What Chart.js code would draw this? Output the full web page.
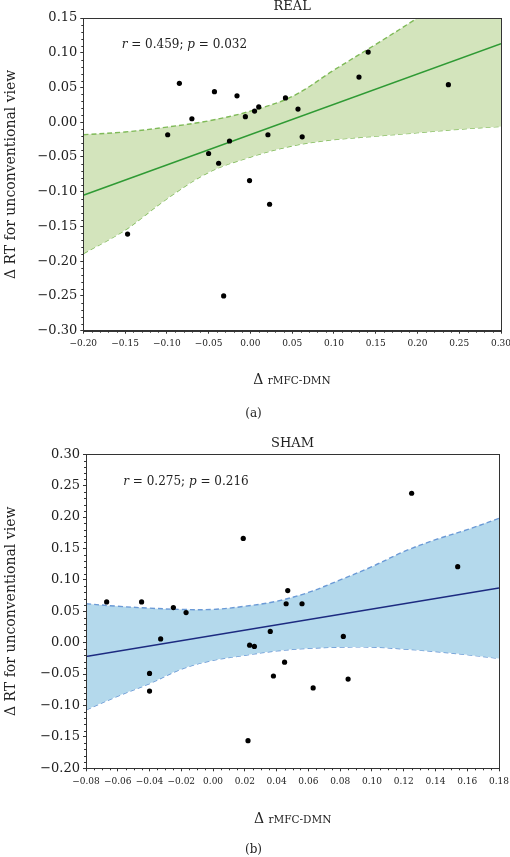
<!DOCTYPE html>
<html>
<head>
<meta charset="utf-8">
<script src="https://cdn.jsdelivr.net/npm/chart.js@4.4.1/dist/chart.umd.min.js"></script>
<style>
    html, body { margin: 0; padding: 0; background: #fff; }
    canvas { position: absolute; left: 0; }
    #realChart { top: 0; }
    #shamChart { top: 425px; }
</style>
</head>
<body>
<canvas id="realChart" width="510" height="425"></canvas>
<canvas id="shamChart" width="510" height="432"></canvas>
<script>
// (a) REAL: one dot per subject
const realX = [-0.099, -0.085, -0.070, -0.043, -0.016, -0.006, 0.005, 0.010, 0.042, 0.057, 0.062,
               0.021, -0.025, -0.050, -0.038, -0.001, 0.130, 0.141, 0.237, 0.023, -0.147, -0.032];
const realY = [-0.018, 0.056, 0.005, 0.044, 0.038, 0.008, 0.016, 0.022, 0.035, 0.019, -0.021,
               -0.018, -0.027, -0.045, -0.059, -0.084, 0.065, 0.101, 0.054, -0.118, -0.161, -0.250];
// regression line and its confidence band
const realFitX = [-0.20, 0.30];
const realFitY = [-0.105, 0.113];
const realBandX = [-0.20, -0.15, -0.10, -0.05, 0.00, 0.05, 0.10, 0.15, 0.20, 0.25, 0.30];
const realBandUpper = [-0.018, -0.014, -0.007, 0.002, 0.016, 0.037, 0.075, 0.112, 0.150, 0.190, 0.230];
const realBandLower = [-0.189, -0.155, -0.110, -0.072, -0.050, -0.034, -0.025, -0.020, -0.015, -0.010, -0.006];

// (b) SHAM
const shamX = [-0.067, -0.045, -0.025, -0.017, -0.033, 0.019, 0.047, 0.046, 0.056, 0.036, 0.082,
               0.125, 0.154, 0.023, 0.026, -0.040, -0.040, 0.045, 0.038, 0.063, 0.085, 0.022];
const shamY = [0.065, 0.065, 0.056, 0.048, 0.006, 0.166, 0.083, 0.062, 0.062, 0.018, 0.010,
               0.238, 0.121, -0.004, -0.006, -0.049, -0.077, -0.031, -0.053, -0.072, -0.058, -0.156];
const shamFitX = [-0.08, 0.18];
const shamFitY = [-0.022, 0.087];
const shamBandX = [-0.08, -0.06, -0.04, -0.02, 0.00, 0.02, 0.04, 0.06, 0.08, 0.10, 0.12, 0.14, 0.16, 0.18];
const shamBandUpper = [0.062, 0.058, 0.055, 0.053, 0.053, 0.058, 0.066, 0.080, 0.100, 0.121, 0.145, 0.164, 0.180, 0.198];
const shamBandLower = [-0.107, -0.085, -0.065, -0.042, -0.028, -0.020, -0.013, -0.009, -0.007, -0.007, -0.010, -0.014, -0.019, -0.025];

const serif = 'DejaVu Serif';
const ink = '#222';

function toPoints(xs, ys) {
    return xs.map((x, i) => ({ x: x, y: ys[i] }));
}

// 0.05 -> "0.05", -0.05 -> "−0.05"
function fmt(v) {
    if (Math.abs(v) < 1e-9) return '0.00';
    return v.toFixed(2).replace('-', '\u2212');
}

// frame, minor ticks and the loose texts around each panel
const panelDecor = {
    id: 'panelDecor',
    afterDraw(chart, args, o) {
        const { ctx, chartArea: a, scales: { x, y } } = chart;
        ctx.save();
        ctx.strokeStyle = '#333';
        ctx.lineWidth = 1;
        ctx.strokeRect(Math.round(a.left) + 0.5, Math.round(a.top) + 0.5,
                       Math.round(a.right - a.left), Math.round(a.bottom - a.top));

        // minor ticks
        ctx.beginPath();
        const nx = Math.round((x.max - x.min) / o.minorX);
        for (let i = 1; i < nx; i++) {
            if (i % o.perMajorX === 0) continue;
            const px = Math.round(x.getPixelForValue(x.min + i * o.minorX)) + 0.5;
            ctx.moveTo(px, a.bottom); ctx.lineTo(px, a.bottom + 2);
        }
        const ny = Math.round((y.max - y.min) / o.minorY);
        for (let i = 1; i < ny; i++) {
            if (i % o.perMajorY === 0) continue;
            const py = Math.round(y.getPixelForValue(y.min + i * o.minorY)) + 0.5;
            ctx.moveTo(a.left, py); ctx.lineTo(a.left - 2, py);
        }
        ctx.stroke();

        ctx.fillStyle = ink;
        ctx.textBaseline = 'alphabetic';

        // panel title
        ctx.textAlign = 'center';
        ctx.font = '13px "' + serif + '"';
        ctx.fillText(o.title, (a.left + a.right) / 2, o.titleY);

        // r / p statistics
        ctx.textAlign = 'left';
        let sx = o.statX;
        o.stat.forEach(part => {
            ctx.font = (part[1] ? 'italic ' : '') + '12px "' + serif + '"';
            ctx.fillText(part[0], sx, o.statY);
            sx += ctx.measureText(part[0]).width;
        });

        // x title: big delta, small label
        ctx.font = '14px "' + serif + '"';
        const d = 'Δ ';
        const dw = ctx.measureText(d).width;
        ctx.font = '10.5px "' + serif + '"';
        const lw = ctx.measureText('rMFC-DMN').width;
        const x0 = o.xTitleX - (dw + lw) / 2;
        ctx.font = '14px "' + serif + '"';
        ctx.fillText(d, x0, o.xTitleY);
        ctx.font = '10.5px "' + serif + '"';
        ctx.fillText('rMFC-DMN', x0 + dw, o.xTitleY);

        // (a) / (b)
        ctx.textAlign = 'center';
        ctx.font = '12px "' + serif + '"';
        ctx.fillText(o.letter, o.letterX, o.letterY);
        ctx.restore();
    }
};

function makeChart(id, p) {
    return new Chart(document.getElementById(id), {
        type: 'scatter',
        data: {
            datasets: [
                {
                    label: 'subjects',
                    data: toPoints(p.xs, p.ys),
                    pointRadius: 2.6,
                    pointBackgroundColor: '#000',
                    pointBorderWidth: 0,
                    showLine: false
                },
                {
                    label: 'fit',
                    data: toPoints(p.fitX, p.fitY),
                    showLine: true,
                    pointRadius: 0,
                    borderColor: p.lineColor,
                    borderWidth: 1.6
                },
                {
                    label: 'upper',
                    data: toPoints(p.bandX, p.upper),
                    showLine: true,
                    pointRadius: 0,
                    borderColor: p.dashColor,
                    borderWidth: 1.4,
                    borderDash: [5, 3],
                    tension: 0.35,
                    fill: '+1',
                    backgroundColor: p.fillColor
                },
                {
                    label: 'lower',
                    data: toPoints(p.bandX, p.lower),
                    showLine: true,
                    pointRadius: 0,
                    borderColor: p.dashColor,
                    borderWidth: 1.4,
                    borderDash: [5, 3],
                    tension: 0.35,
                    fill: false
                }
            ]
        },
        options: {
            responsive: false,
            animation: false,
            layout: { padding: { top: p.padTop, right: p.padRight, left: 0, bottom: 0 } },
            plugins: {
                legend: { display: false },
                tooltip: { enabled: false },
                panelDecor: p.decor
            },
            scales: {
                x: {
                    type: 'linear',
                    min: p.xMin, max: p.xMax,
                    ticks: {
                        stepSize: p.xStep, autoSkip: false, maxRotation: 0, padding: 5,
                        color: ink, font: { family: serif, size: 9 },
                        callback: v => fmt(v)
                    },
                    grid: { drawOnChartArea: false, tickLength: 3, color: '#333' },
                    border: { color: '#333' },
                    afterFit: s => { s.height = p.xAxisHeight; s.paddingLeft = 0; s.paddingRight = 0; }
                },
                y: {
                    type: 'linear',
                    min: p.yMin, max: p.yMax,
                    ticks: {
                        stepSize: p.yStep, autoSkip: false, padding: 3,
                        color: ink, font: { family: serif, size: 13 },
                        callback: v => fmt(v)
                    },
                    grid: { drawOnChartArea: false, tickLength: 3, color: '#333' },
                    border: { color: '#333' },
                    title: {
                        display: true, text: 'Δ RT for unconventional view', color: ink,
                        font: { family: serif, size: 14 }, padding: { top: 3, bottom: 0 }
                    },
                    afterFit: s => { s.width = p.yAxisWidth; s.paddingTop = 0; s.paddingBottom = 0; }
                }
            }
        },
        plugins: [panelDecor]
    });
}

makeChart('realChart', {
    xs: realX, ys: realY,
    fitX: realFitX, fitY: realFitY,
    bandX: realBandX, upper: realBandUpper, lower: realBandLower,
    lineColor: '#2f9a34', dashColor: '#7fba58', fillColor: '#d3e4bc',
    xMin: -0.20, xMax: 0.30, xStep: 0.05,
    yMin: -0.30, yMax: 0.15, yStep: 0.05,
    padTop: 18, padRight: 9, yAxisWidth: 83.3, xAxisHeight: 94.3,
    decor: {
        title: 'REAL', titleY: 9.5,
        stat: [['r', true], [' = 0.459; ', false], ['p', true], [' = 0.032', false]],
        statX: 121.7, statY: 47.5,
        xTitleX: 292, xTitleY: 384,
        letter: '(a)', letterX: 253.5, letterY: 417,
        minorX: 0.01, perMajorX: 5, minorY: 0.01, perMajorY: 5
    }
});

makeChart('shamChart', {
    xs: shamX, ys: shamY,
    fitX: shamFitX, fitY: shamFitY,
    bandX: shamBandX, upper: shamBandUpper, lower: shamBandLower,
    lineColor: '#1c2a80', dashColor: '#6b9ad6', fillColor: '#b4d9ec',
    xMin: -0.08, xMax: 0.18, xStep: 0.02,
    yMin: -0.20, yMax: 0.30, yStep: 0.05,
    padTop: 29.3, padRight: 11, yAxisWidth: 86, xAxisHeight: 88.7,
    decor: {
        title: 'SHAM', titleY: 21.5,
        stat: [['r', true], [' = 0.275; ', false], ['p', true], [' = 0.216', false]],
        statX: 123.3, statY: 60,
        xTitleX: 292.7, xTitleY: 397.7,
        letter: '(b)', letterX: 253.5, letterY: 427.7,
        minorX: 0.005, perMajorX: 4, minorY: 0.01, perMajorY: 5
    }
});
</script>
</body>
</html>
